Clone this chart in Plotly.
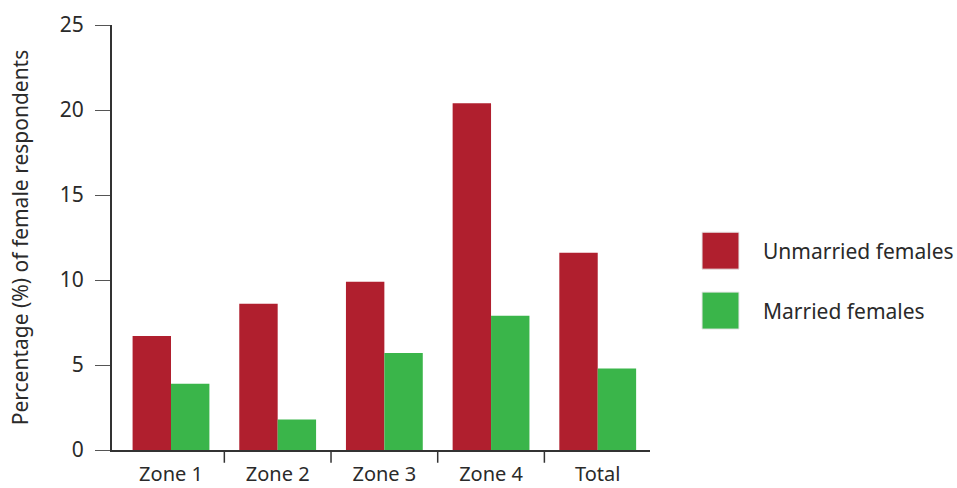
import plotly.graph_objects as go

categories = ["Zone 1", "Zone 2", "Zone 3", "Zone 4", "Total"]
unmarried = [6.7, 8.6, 9.9, 20.4, 11.6]
married = [3.9, 1.8, 5.7, 7.9, 4.8]
series_names = ["Unmarried females", "Married females"]
colors = ["#B01F2E", "#3AB54A"]
y_ticks = [0, 5, 10, 15, 20, 25]

FONT = "Noto Sans"
TXT = "#2a2a2a"
FS = 21

fig = go.Figure()
for name, vals, col in zip(series_names, [unmarried, married], colors):
    fig.add_trace(go.Bar(x=categories, y=vals, name=name, marker=dict(color=col, line=dict(width=0)),
                         showlegend=False, hoverinfo="skip"))

# category boundary ticks on x axis
for i in range(len(categories) - 1):
    fig.add_shape(type="line", xref="x", yref="paper", x0=i + 0.5, x1=i + 0.5, y0=0, y1=-0.03,
                  line=dict(color="#333333", width=1.5))

# custom legend
legend_y = [0.469, 0.328]
for yc, name, col in zip(legend_y, series_names, colors):
    fig.add_shape(type="rect", xref="paper", yref="paper", x0=1.0967, x1=1.1654, y0=yc - 0.0435, y1=yc + 0.0435,
                  fillcolor=col, line=dict(width=1, color="#e6e6e6"))
    fig.add_annotation(xref="paper", yref="paper", x=1.2063, y=yc, text=name, showarrow=False,
                       xanchor="left", yanchor="middle", font=dict(family=FONT, size=FS, color=TXT))

fig.update_layout(
    width=957, height=488,
    margin=dict(l=112, r=307, t=25, b=38, autoexpand=False),
    paper_bgcolor="white", plot_bgcolor="white",
    barmode="group", bargap=0.28, bargroupgap=0,
    font=dict(family=FONT, size=FS, color=TXT),
    xaxis=dict(range=[-0.553, 4.49], showline=True, linecolor="#333333", linewidth=2,
               ticks="", showgrid=False, zeroline=False, tickfont=dict(size=FS - 1), automargin=False,
               ticklabelstandoff=5),
    yaxis=dict(range=[0, 25], tickvals=y_ticks, showline=True, linecolor="#333333", linewidth=2,
               ticks="outside", ticklen=15, tickcolor="#555555", tickwidth=1,
               showgrid=False, zeroline=False, ticklabelstandoff=7, automargin=False,
               title=dict(text="Percentage (%) of female respondents", standoff=25,
                          font=dict(size=FS))),
)

fig.write_html("out.html", config={"displayModeBar": False},
               post_script="document.body.style.margin='0px';document.body.style.overflow='hidden';")
